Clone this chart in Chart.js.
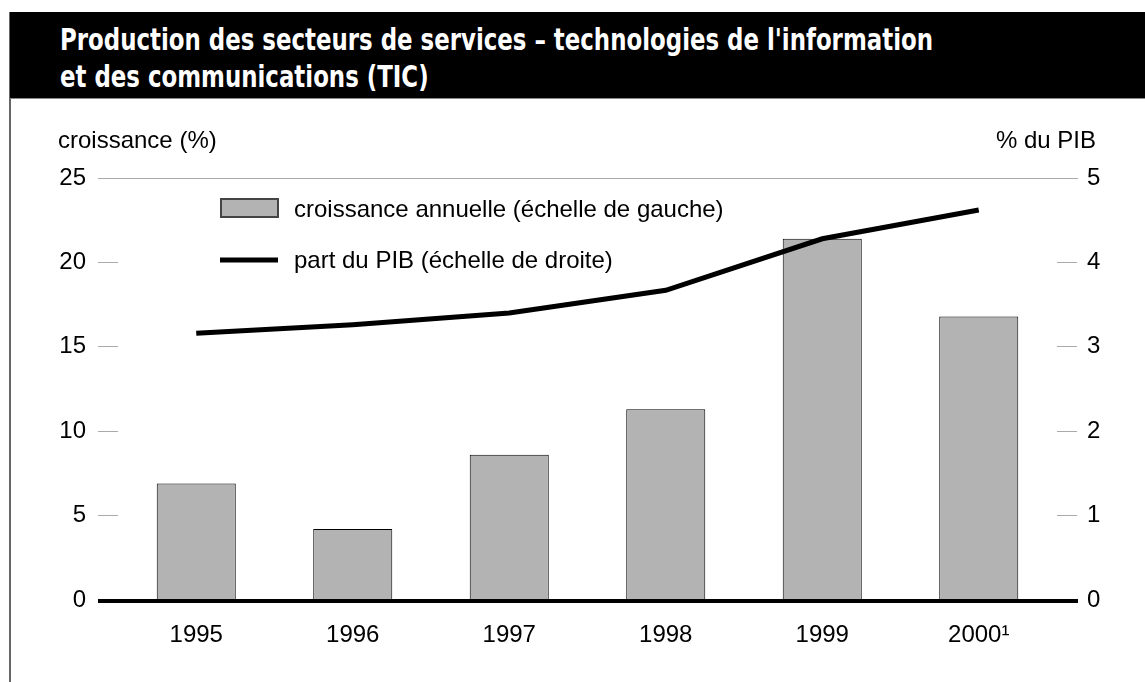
<!DOCTYPE html>
<html>
<head>
<meta charset="utf-8">
<script src="https://cdn.jsdelivr.net/npm/chart.js@4/dist/chart.umd.min.js"></script>
<style>
  body { margin: 0; background: #fff; width: 1145px; height: 682px; overflow: hidden; position: relative; }
  #frame { position: absolute; left: 9px; top: 12px; width: 2px; height: 670px; background: #666; }
  #header { position: absolute; left: 10px; top: 12px; width: 1135px; height: 86px; background: #000; border-bottom: 1px solid #888; }
  #title { position: absolute; left: 60px; top: 21px; color: #fff; font-family: "Liberation Sans Narrow", "DejaVu Sans Condensed", sans-serif; font-stretch: condensed; font-weight: bold; font-size: 31px; line-height: 37px; white-space: nowrap; transform-origin: left top; }
  .axis-title { position: absolute; top: 126px; font-family: "Liberation Sans", Arial, sans-serif; font-size: 24px; color: #000; }
  #chart { position: absolute; left: 0; top: 0; }
</style>
</head>
<body>
<canvas id="chart" width="1145" height="682"></canvas>
<div id="frame"></div>
<div id="header"></div>
<div id="title">Production des secteurs de services – technologies de l'information<br>et des communications (TIC)</div>
<div class="axis-title" style="left:58px">croissance (%)</div>
<div class="axis-title" style="right:49px">% du PIB</div>
<script>
const years = ["1995", "1996", "1997", "1998", "1999", "2000¹"];
const growth = [6.9, 4.2, 8.6, 11.3, 21.4, 16.8];
const gdpShare = [3.16, 3.26, 3.40, 3.67, 4.28, 4.62];
const growthLabel = "croissance annuelle (échelle de gauche)";
const shareLabel = "part du PIB (échelle de droite)";

// squeeze the title to the width it has in the print
const title = document.getElementById("title");
const w = title.getBoundingClientRect().width;
title.style.transform = "scaleX(" + (873 / w) + ")";

Chart.defaults.font.family = '"Liberation Sans", Arial, sans-serif';
Chart.defaults.font.size = 24;
Chart.defaults.color = "#000";

const ctx = document.getElementById("chart").getContext("2d");

const extraLines = {
  id: "extraLines",
  afterDatasetsDraw(chart) {
    const { chartArea, scales } = chart;
    const c = chart.ctx;
    c.save();
    // top rule at 25
    const yTop = Math.round(scales.y.getPixelForValue(25)) + 0.5;
    c.strokeStyle = "#aaa";
    c.lineWidth = 1;
    c.beginPath();
    c.moveTo(chartArea.left - 20, yTop);
    c.lineTo(chartArea.right + 21, yTop);
    c.stroke();
    // heavy zero line
    const y0 = scales.y.getPixelForValue(0) + 1;
    c.strokeStyle = "#000";
    c.lineWidth = 4;
    c.beginPath();
    c.moveTo(chartArea.left - 20, y0);
    c.lineTo(chartArea.right + 21, y0);
    c.stroke();
    c.restore();
  },
  afterDraw(chart) {
    const c = chart.ctx;
    const bar = chart.data.datasets[1];
    const line = chart.data.datasets[0];
    c.save();
    c.fillStyle = bar.backgroundColor;
    c.fillRect(221, 199, 57, 18);
    c.strokeStyle = "#444";
    c.lineWidth = 2;
    c.strokeRect(221, 199, 57, 18);
    c.strokeStyle = line.borderColor;
    c.lineWidth = 5;
    c.beginPath();
    c.moveTo(220, 260);
    c.lineTo(278, 260);
    c.stroke();
    c.fillStyle = "#000";
    c.font = '24px "Liberation Sans", Arial, sans-serif';
    c.textBaseline = "middle";
    c.fillText(bar.label, 294, 210);
    c.fillText(line.label, 294, 261);
    c.restore();
  },
};

new Chart(ctx, {
  type: "bar",
  data: {
    labels: years,
    datasets: [
      {
        type: "line",
        label: shareLabel,
        data: gdpShare,
        yAxisID: "y1",
        borderColor: "#000",
        borderWidth: 5,
        pointRadius: 0,
        tension: 0,
        order: 0,
      },
      {
        type: "bar",
        label: growthLabel,
        data: growth,
        yAxisID: "y",
        backgroundColor: "#b3b3b3",
        borderColor: "#000",
        borderWidth: 1,
        barPercentage: 0.505,
        categoryPercentage: 1,
        order: 1,
      },
    ],
  },
  options: {
    responsive: false,
    animation: false,
    layout: { padding: { top: 178, left: 58, right: 28, bottom: 22 } },
    plugins: { legend: { display: false }, tooltip: { enabled: false } },
    scales: {
      x: {
        grid: { display: false },
        border: { display: false },
        ticks: { padding: 13, maxRotation: 0 },
        afterFit: (s) => { s.height = 60; },
      },
      y: {
        position: "left",
        min: 0,
        max: 25,
        ticks: { stepSize: 5, padding: 12 },
        grid: { drawOnChartArea: false, tickLength: 20, color: "#aaa" },
        border: { display: false },
        afterFit: (s) => { s.width = 60; },
      },
      y1: {
        position: "right",
        min: 0,
        max: 5,
        ticks: { stepSize: 1, padding: 10 },
        grid: { drawOnChartArea: false, tickLength: 20, color: "#aaa" },
        border: { display: false },
        afterFit: (s) => { s.width = 60; },
      },
    },
  },
  plugins: [extraLines],
});
</script>
</body>
</html>
